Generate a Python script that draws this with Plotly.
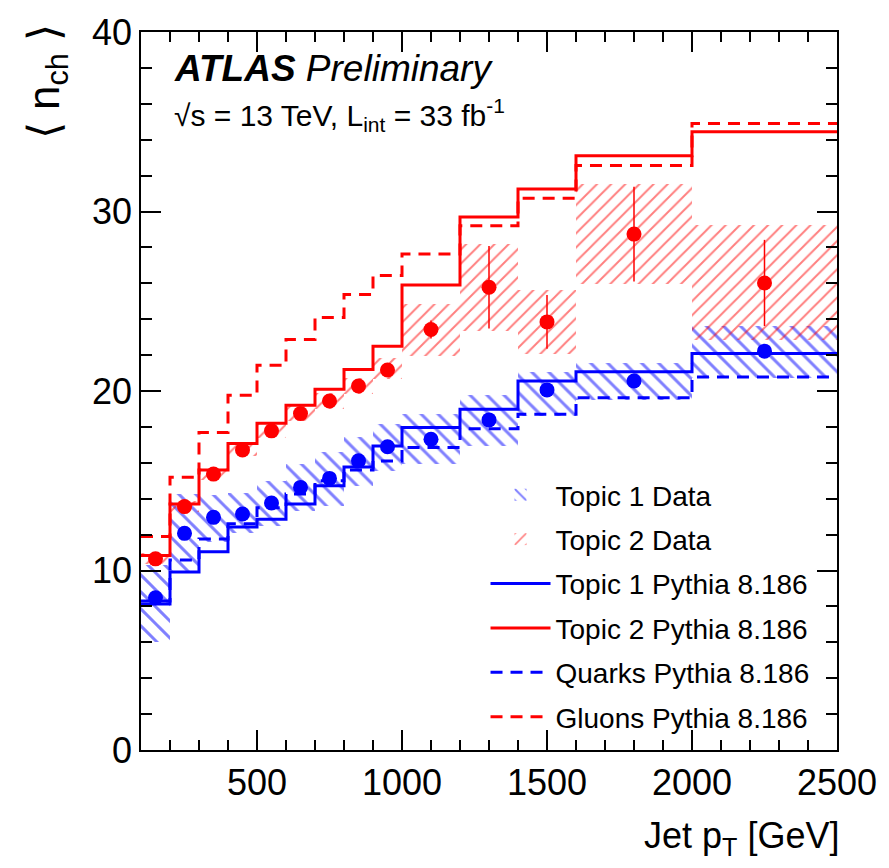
import plotly.graph_objects as go

# ---- data ----
bin_edges = [100, 200, 300, 400, 500, 600, 700, 800, 900, 1000, 1200, 1400, 1600, 2000, 2500]

topic1_data = [8.48, 12.07, 12.96, 13.15, 13.76, 14.63, 15.13, 16.11, 16.89, 17.31, 18.39, 20.06, 20.56, 22.22]
topic1_band_lo = [6.02, 10.0, 11.6, 12.1, 12.5, 13.33, 13.6, 14.7, 15.55, 15.93, 16.94, 18.6, 19.5, 20.74]
topic1_band_hi = [10.3, 14.26, 14.2, 14.3, 15.0, 15.93, 16.6, 17.45, 18.15, 18.7, 19.8, 21.07, 21.57, 23.6]

topic2_data = [10.65, 13.56, 15.37, 16.72, 17.78, 18.74, 19.44, 20.28, 21.17, 23.43, 25.78, 23.85, 28.74, 26.02]
topic2_band_lo = [10.35, 13.25, 15.05, 16.4, 17.4, 18.35, 19.0, 19.85, 20.67, 21.94, 23.37, 22.04, 25.96, 22.82]
topic2_band_hi = [10.95, 13.85, 15.7, 17.05, 18.15, 19.15, 19.9, 20.75, 21.85, 24.87, 28.2, 25.65, 31.54, 29.26]
topic2_stat = [0.2, 0.2, 0.2, 0.2, 0.2, 0.25, 0.25, 0.3, 0.35, 0.5, 2.3, 1.5, 2.64, 2.4]

topic1_pythia = [8.13, 9.91, 11.05, 12.43, 12.85, 13.7, 14.72, 15.76, 16.94, 17.96, 18.98, 20.56, 21.07, 22.09]
topic2_pythia = [10.83, 13.7, 15.6, 17.07, 18.2, 19.2, 20.1, 21.2, 22.5, 25.9, 29.7, 31.26, 33.1, 34.44]
quarks_pythia = [8.3, 10.59, 11.76, 12.6, 13.5, 14.26, 15.0, 15.6, 16.1, 16.85, 17.9, 18.7, 19.63, 20.78]
gluons_pythia = [11.89, 15.19, 17.69, 19.76, 21.44, 22.87, 24.1, 25.37, 26.44, 27.63, 29.2, 30.74, 32.56, 34.9]

# ---- derived ----
centers = [(a + b) / 2 for a, b in zip(bin_edges[:-1], bin_edges[1:])]
widths = [b - a for a, b in zip(bin_edges[:-1], bin_edges[1:])]

BLUE = "#0000ff"
RED = "#ff0000"
FONT = "Liberation Sans, Arial, Helvetica, sans-serif"


def step(vals):
    return list(bin_edges), list(vals) + [vals[-1]]


fig = go.Figure()

# bands (legend entries for data)
fig.add_trace(go.Bar(
    x=centers, base=topic1_band_lo,
    y=[h - l for h, l in zip(topic1_band_hi, topic1_band_lo)],
    width=widths, name="Topic 1 Data", legendgroup="g1",
    marker=dict(color="rgba(0,0,0,0)", line=dict(width=0),
                pattern=dict(shape="\\", fgcolor=BLUE, bgcolor="rgba(0,0,0,0)",
                             size=12, solidity=0.25)),
))
fig.add_trace(go.Bar(
    x=centers, base=topic2_band_lo,
    y=[h - l for h, l in zip(topic2_band_hi, topic2_band_lo)],
    width=widths, name="Topic 2 Data", legendgroup="g2",
    marker=dict(color="rgba(0,0,0,0)", line=dict(width=0),
                pattern=dict(shape="/", fgcolor=RED, bgcolor="rgba(0,0,0,0)",
                             size=10, solidity=0.2)),
))

# Pythia step lines
for vals, name, col, dash, grp in [
    (topic1_pythia, "Topic 1 Pythia 8.186", BLUE, "solid", "g3"),
    (topic2_pythia, "Topic 2 Pythia 8.186", RED, "solid", "g4"),
    (quarks_pythia, "Quarks Pythia 8.186", BLUE, "12px,8px", "g5"),
    (gluons_pythia, "Gluons Pythia 8.186", RED, "12px,8px", "g6"),
]:
    sx, sy = step(vals)
    fig.add_trace(go.Scatter(
        x=sx, y=sy, mode="lines", line=dict(color=col, width=3, dash=dash, shape="hv"),
        name=name, legendgroup=grp,
    ))

# data points
fig.add_trace(go.Scatter(
    x=centers, y=topic1_data, mode="markers", legendgroup="g1", showlegend=False,
    marker=dict(color=BLUE, size=15), name="Topic 1 Data",
))
fig.add_trace(go.Scatter(
    x=centers, y=topic2_data, mode="markers", legendgroup="g2", showlegend=False,
    marker=dict(color=RED, size=15), name="Topic 2 Data",
    error_y=dict(type="data", array=topic2_stat, color=RED, thickness=1.5, width=0),
))

axis_common = dict(
    showline=True, linecolor="black", linewidth=1.5, mirror="allticks",
    ticks="inside", ticklen=20, tickwidth=1.5, tickcolor="black",
    showgrid=False, zeroline=False,
    tickfont=dict(family=FONT, size=36, color="black"),
)

fig.update_xaxes(range=[100, 2500], tick0=0, dtick=500,
                 minor=dict(ticks="inside", ticklen=10, dtick=100, tickcolor="black", tickwidth=1.5),
                 **axis_common)
fig.update_yaxes(range=[0, 40], tick0=0, dtick=10,
                 minor=dict(ticks="inside", ticklen=11, dtick=2, tickcolor="black", tickwidth=1.5),
                 **axis_common)

fig.update_layout(
    width=889, height=868,
    margin=dict(l=141, r=48, t=31, b=118),
    plot_bgcolor="white", paper_bgcolor="white",
    barmode="overlay", bargap=0,
    font=dict(family=FONT, color="black"),
    legend=dict(
        x=0.495, y=0.39, xanchor="left", yanchor="top",
        bgcolor="rgba(0,0,0,0)", borderwidth=0,
        font=dict(family=FONT, size=28, color="black"),
        traceorder="grouped", tracegroupgap=5, itemwidth=60,
    ),
    annotations=[
        dict(text="<b><i>ATLAS</i></b> <i>Preliminary</i>", xref="paper", yref="paper",
             x=0.044, y=0.9485, xanchor="left", yanchor="middle", showarrow=False,
             font=dict(family=FONT, size=37, color="black")),
        dict(text="√s = 13 TeV, L<sub>int</sub> = 33 fb<sup>-1</sup>", xref="paper", yref="paper",
             x=0.044, y=0.885, xanchor="left", yanchor="middle", showarrow=False,
             font=dict(family=FONT, size=30, color="black")),
        dict(text="⟨ n<sub>ch</sub> ⟩", xref="paper", yref="paper",
             x=-0.135, y=0.93, xanchor="center", yanchor="middle", textangle=-90,
             showarrow=False, font=dict(family=FONT, size=44, color="black")),
        dict(text="Jet p<sub>T</sub> [GeV]", xref="paper", yref="paper",
             x=1.0057, y=-0.122, xanchor="right", yanchor="middle",
             showarrow=False, font=dict(family=FONT, size=36, color="black")),
    ],
)

fig.write_html("out.html")
